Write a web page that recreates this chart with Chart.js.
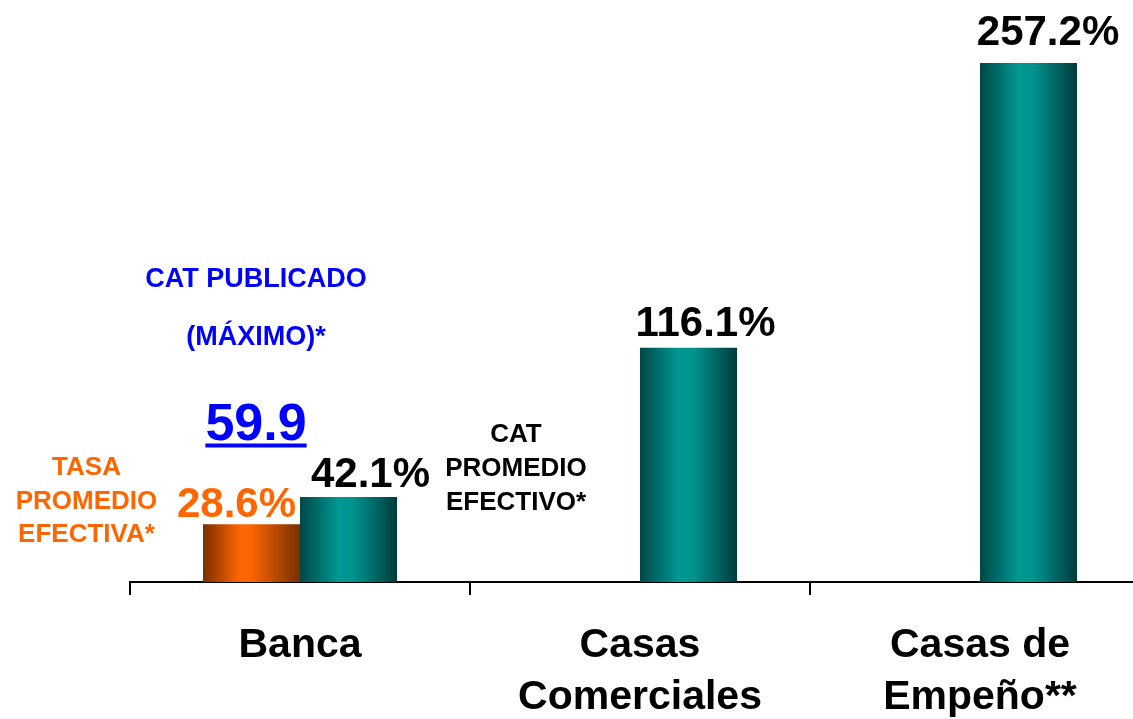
<!DOCTYPE html>
<html>
<head>
<meta charset="utf-8">
<script src="https://cdn.jsdelivr.net/npm/chart.js@4"></script>
<style>
  html, body { margin: 0; padding: 0; background: #ffffff; overflow: hidden; width: 1133px; height: 719px; }
  #wrap { position: relative; width: 1133px; height: 719px; overflow: hidden; }
  canvas { display: block; }
</style>
</head>
<body>
<div id="wrap"><canvas id="chart" width="1151" height="719"></canvas></div>
<script>
// Categories (multi-line labels) and series values (%)
const categories = [['Banca'], ['Casas', 'Comerciales'], ['Casas de', 'Empeño**']];
const tasaPromedio = [28.6, null, null];      // TASA PROMEDIO EFECTIVA*
const catPromedio = [42.1, 116.1, 257.2];     // CAT PROMEDIO EFECTIVO*
const catPublicadoMax = 59.9;                  // CAT PUBLICADO (MÁXIMO)*

const FONT = '"Liberation Sans", Arial, Helvetica, sans-serif';

// Horizontal shaded fill for each bar (dark edges, bright centre)
const barShading = {
  id: 'barShading',
  beforeDatasetsDraw(chart) {
    const ctx = chart.ctx;
    chart.data.datasets.forEach((ds, di) => {
      const meta = chart.getDatasetMeta(di);
      meta.data.forEach(el => {
        if (el.skip || !isFinite(el.x) || !isFinite(el.width)) return;
        const l = el.x - el.width / 2, r = el.x + el.width / 2;
        const g = ctx.createLinearGradient(l, 0, r, 0);
        ds.shade.forEach(([stop, col]) => g.addColorStop(stop, col));
        el.options = Object.assign({}, el.options, { backgroundColor: g });
      });
    });
  }
};

// Percentage labels above bars
const valueLabels = {
  id: 'valueLabels',
  afterDatasetsDraw(chart) {
    const ctx = chart.ctx;
    ctx.save();
    ctx.font = 'bold 42px ' + FONT;
    ctx.textAlign = 'center';
    ctx.textBaseline = 'alphabetic';
    chart.data.datasets.forEach((ds, di) => {
      const meta = chart.getDatasetMeta(di);
      meta.data.forEach((el, i) => {
        const v = ds.data[i];
        if (v === null || v === undefined) return;
        const off = ds.labelOffset[i];
        ctx.fillStyle = ds.labelColor;
        ctx.fillText(v.toFixed(1) + '%', el.x + off[0], el.y + off[1]);
      });
    });
    ctx.restore();
  }
};

// Explanatory captions
const captions = {
  id: 'captions',
  afterDraw(chart) {
    const ctx = chart.ctx;
    ctx.save();
    ctx.textAlign = 'center';
    ctx.textBaseline = 'alphabetic';

    ctx.font = 'bold 27px ' + FONT;
    ctx.fillStyle = '#0000ff';
    ctx.fillText('CAT PUBLICADO', 256, 287);
    ctx.fillText('(MÁXIMO)*', 256, 345);

    ctx.font = 'bold 52px ' + FONT;
    const txt = catPublicadoMax.toFixed(1);
    ctx.fillText(txt, 256, 440);
    const w = ctx.measureText(txt).width;
    ctx.fillRect(256 - w / 2, 443.5, w, 4);

    ctx.font = 'bold 26px ' + FONT;
    ctx.fillStyle = '#ff6600';
    ctx.fillText('TASA', 86.5, 475);
    ctx.fillText('PROMEDIO', 86.5, 508.5);
    ctx.fillText('EFECTIVA*', 86.5, 542);

    ctx.fillStyle = '#000000';
    ctx.fillText('CAT', 516, 442);
    ctx.fillText('PROMEDIO', 516, 476);
    ctx.fillText('EFECTIVO*', 516, 510);
    ctx.restore();
  }
};

new Chart(document.getElementById('chart'), {
  type: 'bar',
  data: {
    labels: categories,
    datasets: [
      {
        label: 'TASA PROMEDIO EFECTIVA*',
        data: tasaPromedio,
        backgroundColor: '#ff6600',
        shade: [[0, '#7a2e00'], [0.38, '#ff6600'], [0.5, '#fb6400'], [1, '#773000']],
        labelColor: '#ff6600',
        labelOffset: [[-15, -7], [0, 0], [0, 0]]
      },
      {
        label: 'CAT PROMEDIO EFECTIVO*',
        data: catPromedio,
        backgroundColor: '#009999',
        shade: [[0, '#004848'], [0.4, '#009893'], [0.55, '#00938f'], [1, '#003b3b']],
        labelColor: '#000000',
        labelOffset: [[22, -10], [17, -12], [19.5, -18]]
      }
    ]
  },
  options: {
    responsive: false,
    devicePixelRatio: 1,
    animation: false,
    layout: { padding: { left: 130, right: 1, top: 17, bottom: 0 } },
    plugins: { legend: { display: false }, tooltip: { enabled: false } },
    datasets: { bar: { categoryPercentage: 0.5706, barPercentage: 1.0, borderWidth: 0, grouped: true } },
    scales: {
      x: {
        offset: true,
        grid: { display: true, drawOnChartArea: false, drawTicks: true, tickLength: 13, color: '#000000', lineWidth: 2, offset: true },
        border: { display: true, color: '#000000', width: 2 },
        ticks: { color: '#000000', font: { family: FONT, size: 41, weight: 'bold', lineHeight: 1.27 }, padding: 25, maxRotation: 0, autoSkip: false },
        afterFit(scale) { scale.height = 137; }
      },
      y: { display: false, min: 0, max: 280 }
    }
  },
  plugins: [barShading, valueLabels, captions]
});
</script>
</body>
</html>
